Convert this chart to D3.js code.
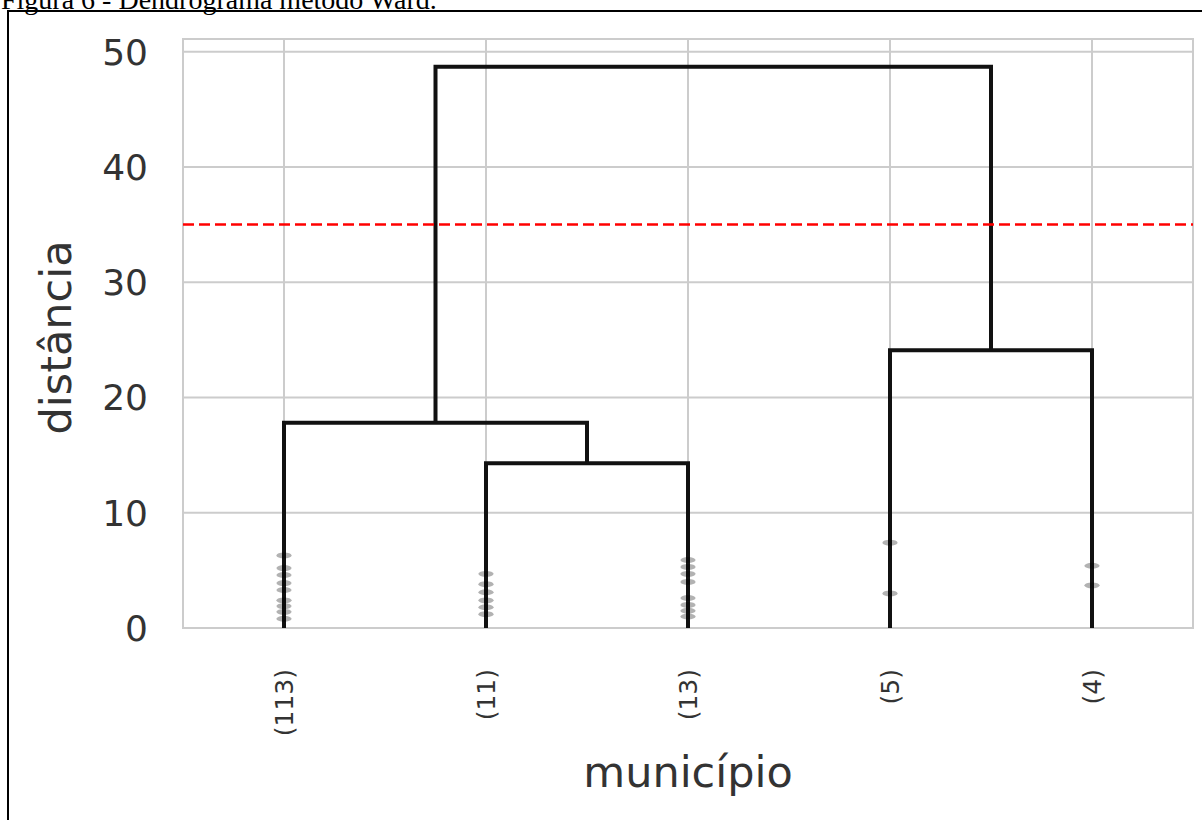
<!DOCTYPE html>
<html>
<head>
<meta charset="utf-8">
<script src="https://cdn.jsdelivr.net/npm/d3@7"></script>
<style>
  html, body { margin: 0; padding: 0; background: #ffffff; }
  svg { display: block; }
</style>
</head>
<body>
<svg id="chart" width="1202" height="820"></svg>
<script>
// ---- data ----
const titleText = "Figura 6 - Dendrograma método Ward.";
const xLabel = "município";
const yLabel = "distância";
const leafLabels = ["(113)", "(11)", "(13)", "(5)", "(4)"];
const yTicks = [0, 10, 20, 30, 40, 50];
// scipy-style link coordinates (icoord / dcoord)
const linkX = [
  [15, 15, 25, 25],
  [5, 5, 20, 20],
  [35, 35, 45, 45],
  [12.5, 12.5, 40, 40]
];
const linkY = [
  [0, 14.3, 14.3, 0],
  [0, 17.8, 17.8, 14.3],
  [0, 24.1, 24.1, 0],
  [17.8, 48.7, 48.7, 24.1]
];
const cutHeight = 35;
// contraction marks (heights) on each truncated leaf
const marks113 = [6.3, 5.2, 4.6, 3.9, 3.3, 2.4, 1.9, 1.4, 0.8];
const marks11 = [4.7, 3.8, 3.1, 2.4, 1.8, 1.2];
const marks13 = [5.9, 5.3, 4.7, 4.0, 2.6, 2.0, 1.5, 1.0];
const marks5 = [7.4, 3.0];
const marks4 = [5.4, 3.7];
const leafMarks = [marks113, marks11, marks13, marks5, marks4];
const yMax = 51.1;

// ---- layout ----
const svg = d3.select("#chart");
const plot = { left: 183, right: 1193, top: 39, bottom: 628 };
const x = d3.scaleLinear().domain([0, leafLabels.length * 10]).range([plot.left, plot.right]);
const y = d3.scaleLinear().domain([0, yMax]).range([plot.bottom, plot.top]);
const leafPos = leafLabels.map((d, i) => i * 10 + 5);
const textColor = "#333333";
const gridColor = "#cccccc";

// figure caption (cropped at top) and outer border
svg.append("text")
  .attr("x", 1).attr("y", 9)
  .attr("font-family", "Liberation Serif, Times New Roman, serif")
  .attr("font-size", 28).attr("fill", "#000")
  .text(titleText);
svg.append("path")
  .attr("d", "M8,820 L8,11 L1202,11")
  .attr("fill", "none").attr("stroke", "#000").attr("stroke-width", 2);

// grid
const g = svg.append("g");
g.selectAll(".hgrid").data(yTicks).join("line")
  .attr("x1", plot.left).attr("x2", plot.right)
  .attr("y1", d => y(d)).attr("y2", d => y(d))
  .attr("stroke", gridColor).attr("stroke-width", 2);
g.selectAll(".vgrid").data(leafPos).join("line")
  .attr("x1", d => x(d)).attr("x2", d => x(d))
  .attr("y1", plot.top).attr("y2", plot.bottom)
  .attr("stroke", gridColor).attr("stroke-width", 2);
// frame
g.append("rect")
  .attr("x", plot.left).attr("y", plot.top)
  .attr("width", plot.right - plot.left).attr("height", plot.bottom - plot.top)
  .attr("fill", "none").attr("stroke", gridColor).attr("stroke-width", 2);

// y tick labels
g.selectAll(".ytl").data(yTicks).join("text")
  .attr("x", 148).attr("y", d => y(d))
  .attr("dy", "0.36em")
  .attr("text-anchor", "end")
  .attr("font-family", "DejaVu Sans, sans-serif")
  .attr("font-size", 36).attr("fill", textColor)
  .text(d => d);

// leaf labels
g.selectAll(".leaf").data(leafLabels).join("text")
  .attr("transform", (d, i) => `translate(${x(leafPos[i])},669) rotate(-90)`)
  .attr("text-anchor", "end")
  .attr("dominant-baseline", "central")
  .attr("font-family", "DejaVu Sans, sans-serif")
  .attr("font-size", 25).attr("fill", textColor)
  .text(d => d);

// axis titles
svg.append("text")
  .attr("transform", `translate(71,${(plot.top + plot.bottom) / 2 + 4}) rotate(-90)`)
  .attr("text-anchor", "middle")
  .attr("font-family", "DejaVu Sans, sans-serif")
  .attr("font-size", 43).attr("fill", textColor)
  .text(yLabel);
svg.append("text")
  .attr("x", (plot.left + plot.right) / 2).attr("y", 787)
  .attr("text-anchor", "middle")
  .attr("font-family", "DejaVu Sans, sans-serif")
  .attr("font-size", 43).attr("fill", textColor)
  .text(xLabel);

// dendrogram links
const line = d3.line().x(d => x(d[0])).y(d => y(d[1]));
g.selectAll(".link").data(linkX.map((xs, i) => xs.map((xv, j) => [xv, linkY[i][j]]))).join("path")
  .attr("d", line)
  .attr("fill", "none").attr("stroke", "#111").attr("stroke-width", 4)
  .attr("stroke-linejoin", "miter");

// contraction marks (semi-transparent ellipses)
const markData = [];
leafMarks.forEach((arr, i) => arr.forEach(h => markData.push([leafPos[i], h])));
g.selectAll(".mark").data(markData).join("ellipse")
  .attr("cx", d => x(d[0])).attr("cy", d => y(d[1]))
  .attr("rx", (x(1) - x(0)) / 2 * 0.75)
  .attr("ry", (y(0) - y(yMax / 100)) / 2)
  .attr("fill", "#000").attr("fill-opacity", 0.3);

// cut line
g.append("line")
  .attr("x1", plot.left).attr("x2", plot.right)
  .attr("y1", y(cutHeight)).attr("y2", y(cutHeight))
  .attr("stroke", "#ff0000").attr("stroke-width", 2.5)
  .attr("stroke-dasharray", "11,5");
</script>
</body>
</html>
